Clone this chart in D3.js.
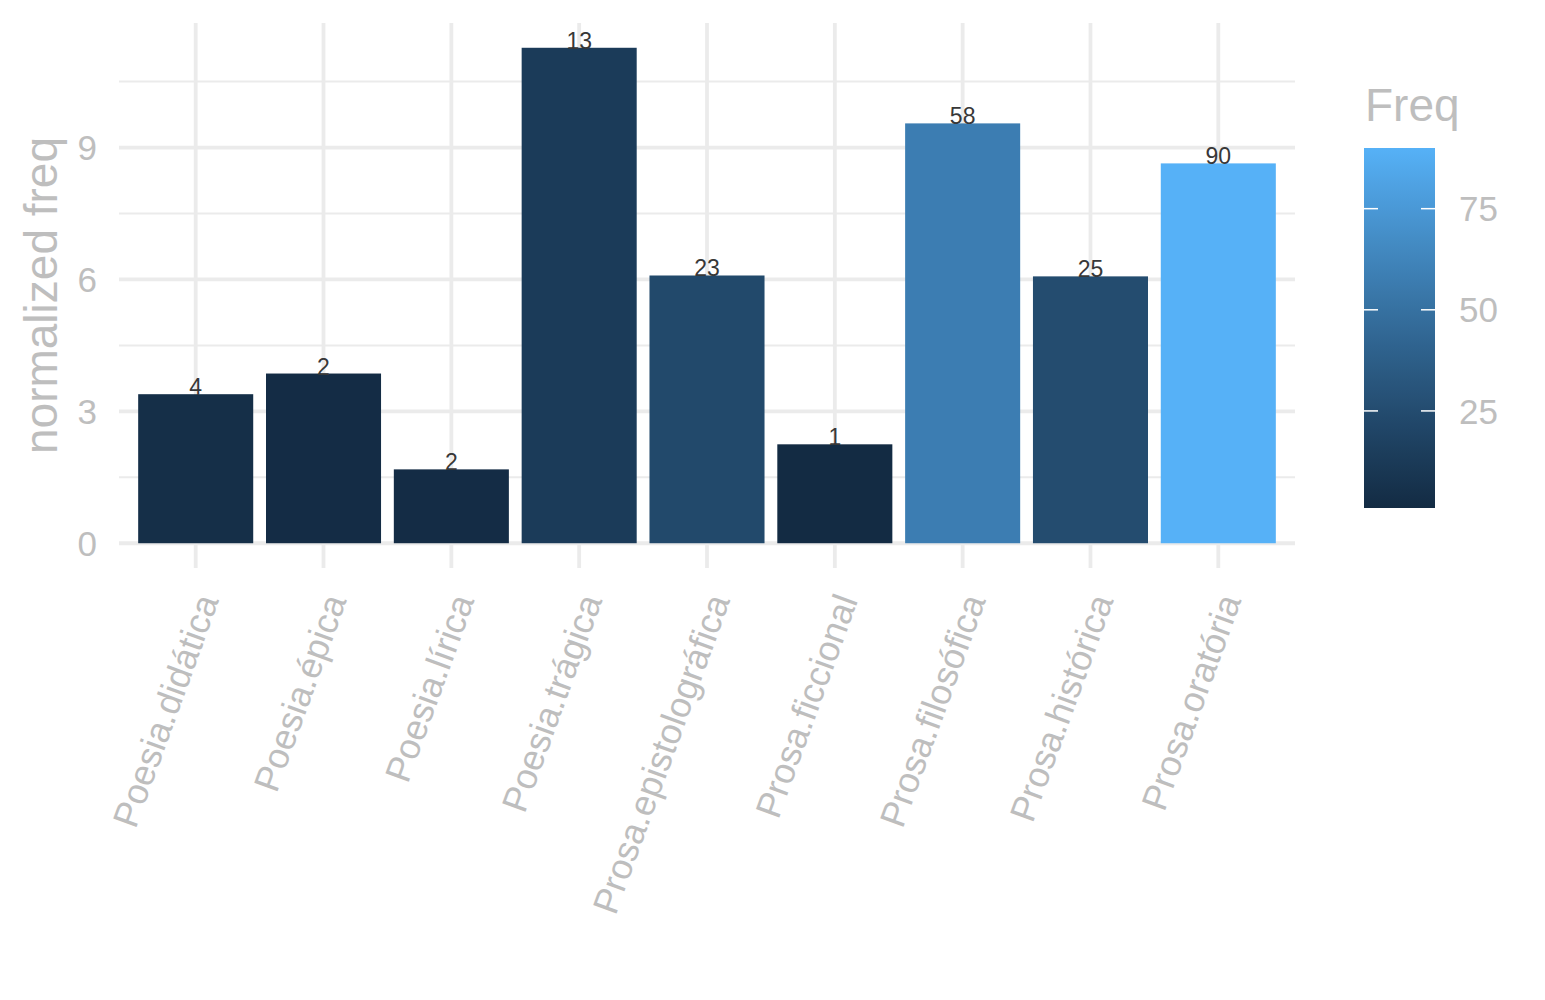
<!DOCTYPE html>
<html>
<head>
<meta charset="utf-8">
<script src="https://cdn.jsdelivr.net/npm/d3@7"></script>
<style>
  body { margin: 0; background: #fff; }
  svg { font-family: 'Liberation Sans', Arial, sans-serif; }
</style>
</head>
<body>
<svg id="chart" width="1545" height="1000"></svg>
<script>
// values
const genres = ['Poesia.didática', 'Poesia.épica', 'Poesia.lírica', 'Poesia.trágica',
  'Prosa.epistolográfica', 'Prosa.ficcional', 'Prosa.filosófica', 'Prosa.histórica', 'Prosa.oratória']
const normFreq = [3.39, 3.86, 1.68, 11.27, 6.09, 2.25, 9.55, 6.07, 8.64]
const freq = [4, 2, 2, 13, 23, 1, 58, 25, 90]
const yTicks = [0, 3, 6, 9]
const yMinor = [1.5, 4.5, 7.5, 10.5]
const legendTicks = [25, 50, 75]

const svg = d3.select('#chart')
const panel = { left: 119, right: 1295, top: 23, bottom: 568 }
const grid = '#ebebeb'
const textGrey = '#bebebe'

const yMax = d3.max(normFreq)
const pad = yMax * 0.05
const y = d3.scaleLinear().domain([-pad, yMax + pad]).range([panel.bottom, panel.top])
const x = d3.scalePoint().domain(genres).range([panel.left, panel.right]).padding(0.6)
const barW = x.step() * 0.9

const colour = d3.scaleLinear()
  .domain(d3.extent(freq))
  .range(['#132B43', '#56B1F7'])
  .interpolate(d3.interpolateLab)

// grid
const g = svg.append('g')
g.selectAll('.minor').data(yMinor).join('line')
  .attr('x1', panel.left).attr('x2', panel.right)
  .attr('y1', d => y(d)).attr('y2', d => y(d))
  .attr('stroke', grid).attr('stroke-width', 2)
g.selectAll('.major').data(yTicks).join('line')
  .attr('x1', panel.left).attr('x2', panel.right)
  .attr('y1', d => y(d)).attr('y2', d => y(d))
  .attr('stroke', grid).attr('stroke-width', 3.8)
g.selectAll('.vert').data(genres).join('line')
  .attr('x1', d => x(d)).attr('x2', d => x(d))
  .attr('y1', panel.top).attr('y2', panel.bottom)
  .attr('stroke', grid).attr('stroke-width', 3.8)

// bars
svg.append('g').selectAll('rect').data(genres).join('rect')
  .attr('x', d => x(d) - barW / 2)
  .attr('width', barW)
  .attr('y', (d, i) => y(normFreq[i]))
  .attr('height', (d, i) => y(0) - y(normFreq[i]))
  .attr('fill', (d, i) => colour(freq[i]))

svg.append('g').selectAll('text').data(genres).join('text')
  .attr('x', d => x(d))
  .attr('y', (d, i) => y(normFreq[i]) + 1)
  .attr('text-anchor', 'middle')
  .attr('font-size', 23)
  .attr('fill', '#383838')
  .text((d, i) => freq[i])

// y axis labels
svg.append('g').selectAll('text').data(yTicks).join('text')
  .attr('x', 97)
  .attr('y', d => y(d))
  .attr('dy', '0.36em')
  .attr('text-anchor', 'end')
  .attr('font-size', 35)
  .attr('fill', textGrey)
  .text(d => d)

svg.append('text')
  .attr('transform', `translate(57,${(panel.top + panel.bottom) / 2}) rotate(-90)`)
  .attr('text-anchor', 'middle')
  .attr('font-size', 46)
  .attr('fill', textGrey)
  .text('normalized freq')

// x axis labels
svg.append('g').selectAll('text').data(genres).join('text')
  .attr('transform', d => `translate(${x(d) - 2},591) rotate(-70)`)
  .attr('dy', '0.75em')
  .attr('text-anchor', 'end')
  .attr('font-size', 36)
  .attr('fill', textGrey)
  .text(d => d)

// legend
const leg = { x: 1364, w: 71, top: 148, bottom: 508 }
const ly = d3.scaleLinear().domain(d3.extent(freq)).range([leg.bottom, leg.top])
const grad = svg.append('defs').append('linearGradient')
  .attr('id', 'freqGrad').attr('x1', 0).attr('y1', 1).attr('x2', 0).attr('y2', 0)
grad.selectAll('stop').data(d3.range(0, 1.001, 0.05)).join('stop')
  .attr('offset', d => d)
  .attr('stop-color', d => colour(ly.domain()[0] + d * (ly.domain()[1] - ly.domain()[0])))

svg.append('rect')
  .attr('x', leg.x).attr('y', leg.top)
  .attr('width', leg.w).attr('height', leg.bottom - leg.top)
  .attr('fill', 'url(#freqGrad)')

const lt = svg.append('g').selectAll('g').data(legendTicks).join('g')
lt.append('line')
  .attr('x1', leg.x).attr('x2', leg.x + 14)
  .attr('y1', d => ly(d)).attr('y2', d => ly(d))
  .attr('stroke', '#fff').attr('stroke-width', 1.5)
lt.append('line')
  .attr('x1', leg.x + leg.w - 14).attr('x2', leg.x + leg.w)
  .attr('y1', d => ly(d)).attr('y2', d => ly(d))
  .attr('stroke', '#fff').attr('stroke-width', 1.5)
lt.append('text')
  .attr('x', 1459)
  .attr('y', d => ly(d))
  .attr('dy', '0.36em')
  .attr('font-size', 35)
  .attr('fill', textGrey)
  .text(d => d)

svg.append('text')
  .attr('x', 1365).attr('y', 121)
  .attr('font-size', 46)
  .attr('fill', textGrey)
  .text('Freq')
</script>
</body>
</html>
